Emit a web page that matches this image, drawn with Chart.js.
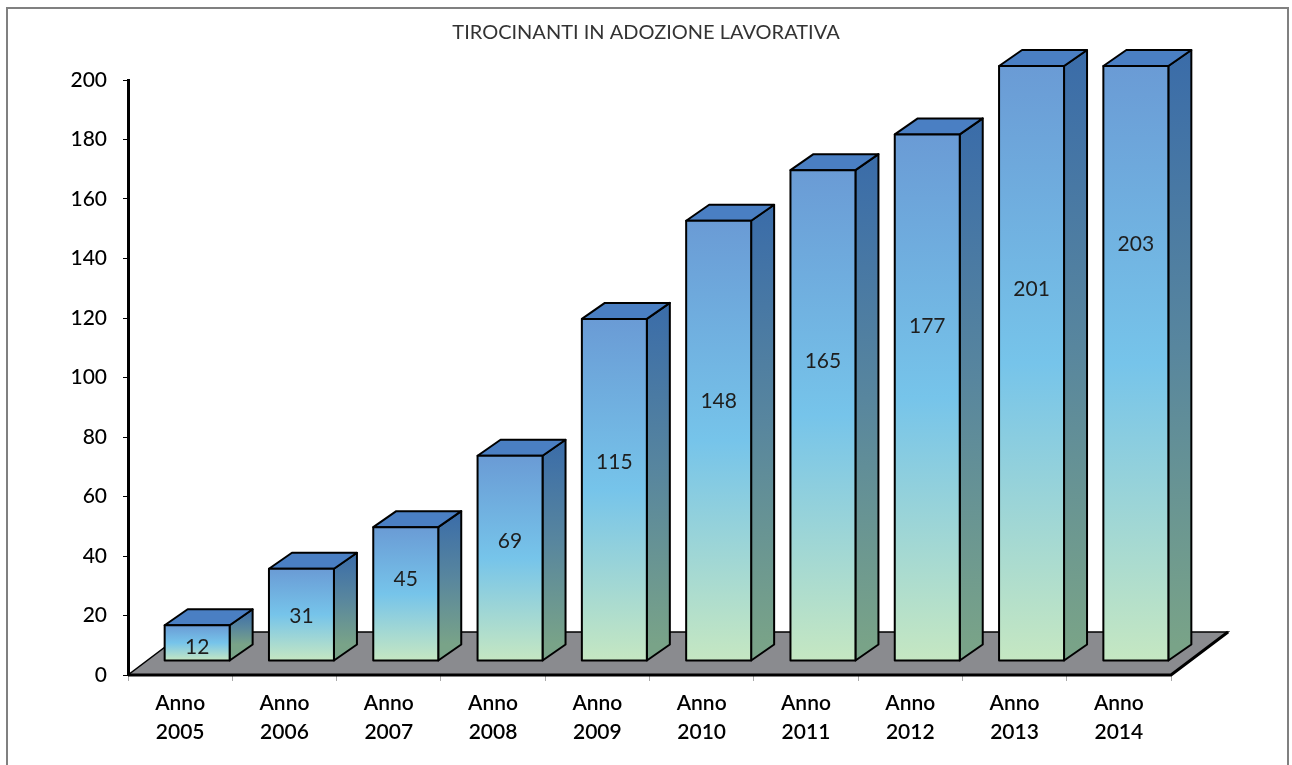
<!DOCTYPE html>
<html>
<head>
<meta charset="utf-8">
<script src="https://cdn.jsdelivr.net/npm/chart.js@4/dist/chart.umd.min.js"></script>
<style>
  html, body { margin: 0; padding: 0; background: #fff; }
  #wrap { width: 1292px; height: 765px; }
</style>
</head>
<body>
<div id="wrap"><canvas id="c" width="1292" height="765"></canvas></div>
<script>
// Trainees placed in work adoption, per year
const years = ['2005', '2006', '2007', '2008', '2009', '2010', '2011', '2012', '2013', '2014'];
const categories = years.map(y => ['Anno', y]);
const tirocinanti = [12, 31, 45, 69, 115, 148, 165, 177, 201, 203];
const yTicks = [0, 20, 40, 60, 80, 100, 120, 140, 160, 180, 200];

// Draws the boxes, the grey floor and the outer frame around the chart
const box3d = {
  id: 'box3d',
  beforeDraw(chart, args, o) {
    const ctx = chart.ctx;
    ctx.save();
    ctx.fillStyle = '#ffffff';
    ctx.fillRect(0, 0, chart.width, chart.height);
    ctx.strokeStyle = '#808080';
    ctx.lineWidth = 2;
    ctx.strokeRect(7, 8, 1281, 800);
    ctx.restore();
  },
  beforeDatasetsDraw(chart, args, o) {
    const { ctx, chartArea: a } = chart;
    const f = o.floor;
    ctx.save();
    ctx.beginPath();
    ctx.moveTo(a.left, a.bottom);
    ctx.lineTo(a.right, a.bottom);
    ctx.lineTo(a.right + f.dx, a.bottom + f.dy);
    ctx.lineTo(a.left + f.dx, a.bottom + f.dy);
    ctx.closePath();
    ctx.fillStyle = '#8a8b8f';
    ctx.fill();
    ctx.strokeStyle = '#000';
    ctx.lineWidth = 1.5;
    ctx.lineJoin = 'miter';
    ctx.stroke();
    // heavier front and right edges
    ctx.beginPath();
    ctx.moveTo(a.left, a.bottom);
    ctx.lineTo(a.right, a.bottom);
    ctx.lineTo(a.right + f.dx, a.bottom + f.dy);
    ctx.lineWidth = 3;
    ctx.stroke();
    ctx.restore();
  },
  afterDatasetsDraw(chart, args, o) {
    const { ctx, chartArea: a } = chart;
    const meta = chart.getDatasetMeta(0);
    const data = chart.data.datasets[0].data;
    const off = o.shift, s = o.depth;
    ctx.save();
    ctx.lineJoin = 'round';
    ctx.strokeStyle = '#000';
    ctx.lineWidth = 2;
    meta.data.forEach((bar, i) => {
      const p = bar.getProps(['x', 'y', 'base', 'width'], true);
      const L = p.x - p.width / 2 + off.dx;
      const R = L + p.width;
      const T = Math.max(p.y, a.top) + off.dy;
      const B = p.base + off.dy;

      // side face
      const gs = ctx.createLinearGradient(0, T + s.dy, 0, B + s.dy);
      gs.addColorStop(0, '#3a6ca9');
      gs.addColorStop(0.5, '#58869e');
      gs.addColorStop(1, '#79a388');
      ctx.beginPath();
      ctx.moveTo(R, B);
      ctx.lineTo(R, T);
      ctx.lineTo(R + s.dx, T + s.dy);
      ctx.lineTo(R + s.dx, B + s.dy);
      ctx.closePath();
      ctx.fillStyle = gs;
      ctx.fill();
      ctx.stroke();

      // top face
      ctx.beginPath();
      ctx.moveTo(L, T);
      ctx.lineTo(R, T);
      ctx.lineTo(R + s.dx, T + s.dy);
      ctx.lineTo(L + s.dx, T + s.dy);
      ctx.closePath();
      ctx.fillStyle = '#4a7fc3';
      ctx.fill();
      ctx.stroke();

      // front face
      const gf = ctx.createLinearGradient(0, T, 0, B);
      gf.addColorStop(0, '#6a9bd5');
      gf.addColorStop(0.5, '#76c4ea');
      gf.addColorStop(1, '#c5e7c2');
      ctx.beginPath();
      ctx.rect(L, T, p.width, B - T);
      ctx.fillStyle = gf;
      ctx.fill();
      ctx.stroke();

      // value label
      const frac = o.labelRise[i];
      ctx.fillStyle = '#1e1e1e';
      ctx.font = '21px Lato';
      ctx.textAlign = 'center';
      ctx.textBaseline = 'middle';
      ctx.fillText(String(data[i]), (L + R) / 2, B - frac * (B - T));
    });
    ctx.restore();
  }
};

new Chart(document.getElementById('c'), {
  type: 'bar',
  data: {
    labels: categories,
    datasets: [{
      data: tirocinanti,
      backgroundColor: 'rgba(0,0,0,0)',
      borderWidth: 0,
      barPercentage: 0.623,
      categoryPercentage: 1
    }]
  },
  options: {
    responsive: false,
    animation: false,
    devicePixelRatio: 1,
    layout: { padding: { left: 0, right: 0, top: 0, bottom: 0 } },
    plugins: {
      legend: { display: false },
      tooltip: { enabled: false },
      title: {
        display: true,
        text: 'TIROCINANTI IN ADOZIONE LAVORATIVA',
        color: '#333',
        font: { family: 'Lato', size: 20, weight: 'normal' },
        padding: { top: 21, bottom: 35 }
      },
      box3d: {
        floor: { dx: 57, dy: -43 },
        shift: { dx: 17, dy: -14 },
        depth: { dx: 23, dy: -16 },
        labelRise: [0.39, 0.48, 0.61, 0.58, 0.58, 0.59, 0.61, 0.635, 0.625, 0.70]
      }
    },
    scales: {
      x: {
        grid: { display: true, drawOnChartArea: false, drawTicks: true, tickLength: 6, color: '#aaaaaa', offset: true },
        border: { display: false },
        ticks: {
          color: '#000',
          font: { family: 'Lato', size: 21, weight: '600', lineHeight: 1.38 },
          padding: 8,
          maxRotation: 0
        },
        afterFit(s) { s.height = 90; }
      },
      y: {
        min: 0,
        max: 200,
        grid: { display: true, drawOnChartArea: false, drawTicks: true, tickLength: 5, color: '#000' },
        border: { display: true, color: '#000', width: 3 },
        ticks: {
          color: '#000',
          font: { family: 'Lato', size: 21, weight: '500' },
          padding: 16
        },
        afterBuildTicks(s) { s.ticks = yTicks.map(v => ({ value: v })); },
        afterFit(s) { s.width = 128; }
      },
      // empty right-hand margin that holds the floor's receding edge
      margin: {
        type: 'linear',
        position: 'right',
        min: 0,
        max: 200,
        grid: { display: false },
        border: { display: false },
        ticks: { display: false },
        afterFit(s) { s.width = 121; }
      }
    }
  },
  plugins: [box3d]
});
</script>
</body>
</html>
